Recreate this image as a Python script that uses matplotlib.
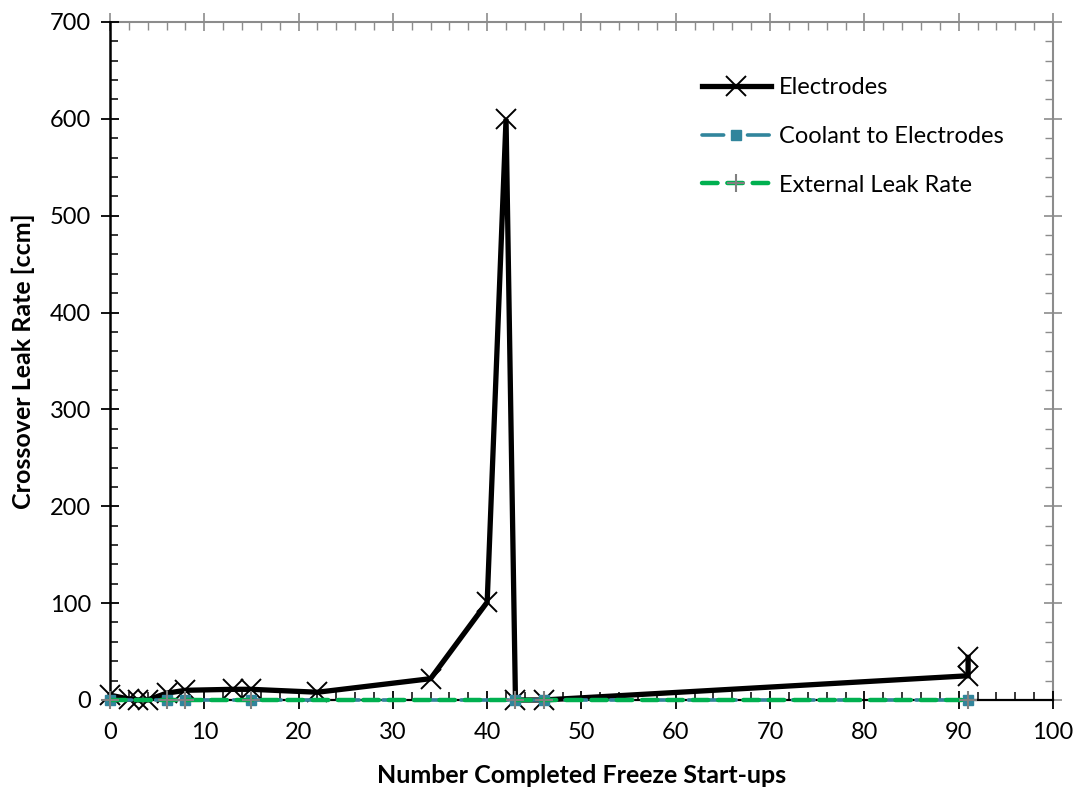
import matplotlib
matplotlib.use("Agg")
import matplotlib.pyplot as plt
from matplotlib.ticker import MultipleLocator

plt.rcParams['font.family'] = ['Lato', 'DejaVu Sans']

# Electrode crossover leak rate per number of completed freeze start-ups
electrodes_x = [0, 2, 3, 4, 6, 8, 13, 15, 22, 34, 40, 42, 43, 46, 91, 91]
electrodes_y = [5, 1, 0, 0, 7, 10, 11, 11, 8, 22, 101, 600, 0, 0, 25, 44]

# Coolant-to-electrodes leak rate
coolant_x = [0, 6, 8, 15, 43, 46, 91]
coolant_y = [0, 0, 0, 0, 0, 0, 0]

# External leak rate
external_x = [0, 6, 8, 15, 43, 46, 91]
external_y = [0, 0, 0, 0, 0, 0, 0]

x_label = "Number Completed Freeze Start-ups"
y_label = "Crossover Leak Rate [ccm]"
series_names = ["Electrodes", "Coolant to Electrodes", "External Leak Rate"]

fig = plt.figure(figsize=(10.76, 7.88), dpi=100)
ax = fig.add_axes([0.1022, 0.1117, 0.8764, 0.8604])

ax.plot(electrodes_x, electrodes_y, color='black', lw=3.8, marker='x',
        ms=14, mew=1.4, mec='black', label=series_names[0], zorder=3,
        solid_joinstyle='miter', clip_on=False)
ax.plot(coolant_x, coolant_y, color='#31859C', lw=2.6, linestyle=(0, (6, 3, 0.6, 3)),
        dash_capstyle='round', marker='s', ms=7, mec='#31859C', mfc='#31859C',
        label=series_names[1], zorder=7, clip_on=False)
ax.plot(external_x, external_y, color='#00B050', lw=3.2, linestyle=(0, (3.5, 2.2)),
        dash_capstyle='round', marker='+', ms=13, mew=1.5, mec='#808080',
        label=series_names[2], zorder=8, clip_on=False)

ax.set_xlim(0, 100)
ax.set_ylim(0, 700)
ax.xaxis.set_major_locator(MultipleLocator(10))
ax.xaxis.set_minor_locator(MultipleLocator(2))
ax.yaxis.set_major_locator(MultipleLocator(100))
ax.yaxis.set_minor_locator(MultipleLocator(20))

for side in ('top', 'right'):
    ax.spines[side].set_visible(False)
ax.spines['left'].set_linewidth(1.8)
ax.spines['bottom'].set_linewidth(1.6)
ax.spines['left'].set_zorder(6)
ax.spines['bottom'].set_zorder(6)

ax.tick_params(which='major', direction='inout', length=13, width=1.3,
               color='black', labelsize=17)
ax.tick_params(axis='x', which='major', pad=9)
ax.tick_params(axis='y', which='major', pad=7)
ax.tick_params(which='minor', direction='in', length=6, width=1.1, color='black')
ax.set_axisbelow(False)

# Grey secondary axes along the top and right edges
top = ax.secondary_xaxis('top')
top.xaxis.set_major_locator(MultipleLocator(10))
top.xaxis.set_minor_locator(MultipleLocator(2))
top.spines['top'].set_color('#8c8c8c')
top.spines['top'].set_linewidth(1.5)
top.tick_params(which='major', direction='inout', length=13, width=1.2,
                color='#8c8c8c', labeltop=False)
top.tick_params(which='minor', direction='in', length=6, width=1.0, color='#8c8c8c')

right = ax.secondary_yaxis('right')
right.yaxis.set_major_locator(MultipleLocator(100))
right.yaxis.set_minor_locator(MultipleLocator(20))
right.spines['right'].set_color('#8c8c8c')
right.spines['right'].set_linewidth(1.5)
right.tick_params(which='major', direction='inout', length=13, width=1.2,
                  color='#8c8c8c', labelright=False)
right.tick_params(which='minor', direction='in', length=6, width=1.0, color='#8c8c8c')

ax.set_xlabel(x_label, fontsize=18, fontweight='bold')
ax.set_ylabel(y_label, fontsize=18, fontweight='bold')
ax.xaxis.set_label_coords(0.5, -0.095)
ax.yaxis.set_label_coords(-0.079, 0.5)

leg = ax.legend(loc='upper left', bbox_to_anchor=(0.628, 0.919), frameon=False,
                fontsize=17, handlelength=2.9, handletextpad=0.35,
                labelspacing=1.18, numpoints=1, borderpad=0, borderaxespad=0)

fig.savefig('out.png', dpi=100)
